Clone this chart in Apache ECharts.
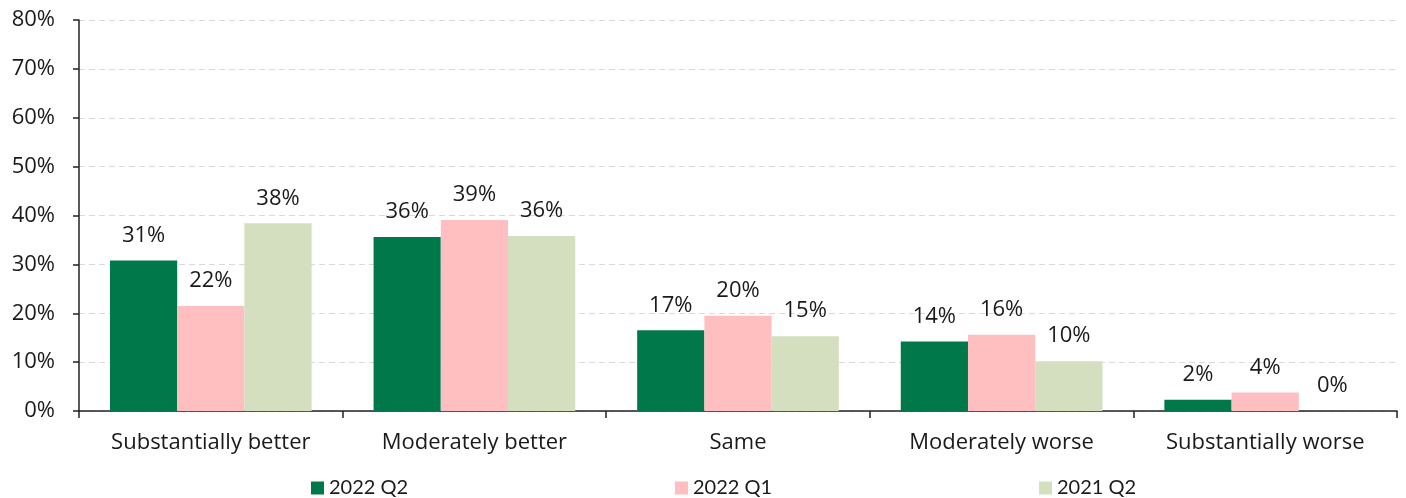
<!DOCTYPE html>
<html>
<head>
<meta charset="utf-8">
<script src="https://cdn.jsdelivr.net/npm/echarts@6/dist/echarts.min.js"></script>
<style>
html,body{margin:0;padding:0;background:#fff;}
#chart{width:1406px;height:498px;}
</style>
</head>
<body>
<div id="chart"></div>
<script>
const categories = ["Substantially better", "Moderately better", "Same", "Moderately worse", "Substantially worse"];
const seriesNames = ["2022 Q2", "2022 Q1", "2021 Q2"];
const q2_2022 = [30.8, 35.6, 16.5, 14.2, 2.3];
const q1_2022 = [21.5, 39.1, 19.5, 15.6, 3.8];
const q2_2021 = [38.4, 35.8, 15.3, 10.2, 0];
const yTicks = [0, 10, 20, 30, 40, 50, 60, 70, 80];

const colors = ["#00784A", "#FFBFC0", "#D4DFC0"];
const FONT = "Open Sans";
const LFONT = "Lato";
const chart = echarts.init(document.getElementById('chart'), null, {renderer: 'canvas'});
const dataSets = [q2_2022, q1_2022, q2_2021];
const legendLefts = [306, 670, 1034];

chart.setOption({
  animation: false,
  textStyle: {fontFamily: FONT},
  grid: {left: 79, right: 9, top: 20, bottom: 87, containLabel: false},
  legend: seriesNames.map((n, i) => ({
    data: [n],
    left: legendLefts[i],
    top: 473,
    itemWidth: 13,
    itemHeight: 13,
    itemGap: 0,
    icon: 'rect',
    textStyle: {fontFamily: LFONT, fontSize: 20, color: '#1a1a1a', padding: [0, 0, 0, 0]}
  })),
  xAxis: {
    type: 'category',
    data: categories,
    axisLine: {lineStyle: {color: '#222', width: 1.5}},
    axisTick: {show: true, length: 7, lineStyle: {color: '#222', width: 1.5}},
    axisLabel: {fontFamily: FONT, fontSize: 22, color: '#1a1a1a', margin: 21}
  },
  yAxis: {
    type: 'value',
    min: 0, max: 80, interval: 10,
    axisLine: {show: true, lineStyle: {color: '#222', width: 1.5}},
    axisTick: {show: true, length: 6, lineStyle: {color: '#222', width: 1.5}},
    axisLabel: {fontFamily: FONT, fontSize: 22, color: '#1a1a1a', margin: 24,
      formatter: v => yTicks.includes(v) ? v + '%' : ''},
    splitLine: {show: true, lineStyle: {color: '#D9D9D9', type: [6, 4], width: 1}}
  },
  series: seriesNames.map((n, i) => ({
    name: n,
    type: 'bar',
    data: dataSets[i],
    barGap: '0%',
    barCategoryGap: '23.5%',
    itemStyle: {color: colors[i]},
    label: {
      show: true, position: 'top', distance: 14,
      fontFamily: FONT, fontSize: 22, color: '#1a1a1a',
      formatter: p => Math.round(p.value) + '%'
    }
  }))
});
</script>
</body>
</html>
